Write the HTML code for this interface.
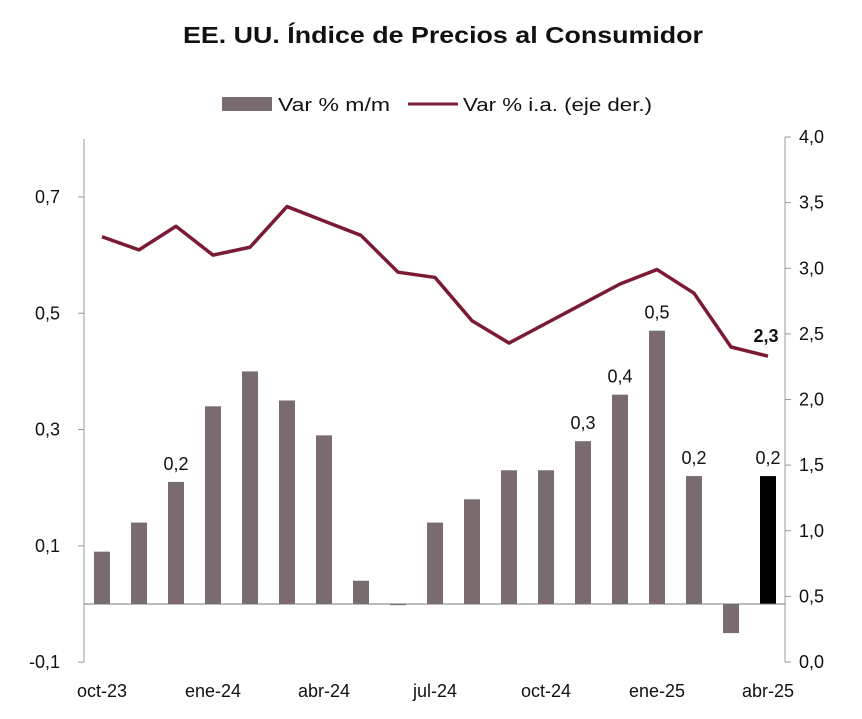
<!DOCTYPE html>
<html><head><meta charset="utf-8"><style>
body{margin:0;background:#fff;font-family:"Liberation Sans",sans-serif;}
svg text{font-family:"Liberation Sans",sans-serif;}
</style></head><body>
<svg id="chart" width="862" height="714">
<text x="183" y="43" textLength="520" lengthAdjust="spacingAndGlyphs" font-size="23" font-weight="bold" fill="#111">EE. UU. Índice de Precios al Consumidor</text>
<g>
<rect x="222" y="97" width="50" height="14" fill="#7a6b6e"/>
<text x="278" y="111" textLength="112" lengthAdjust="spacingAndGlyphs" font-size="18" fill="#111">Var % m/m</text>
<line x1="408" y1="104" x2="458" y2="104" stroke="#7b1a33" stroke-width="3"/>
<text x="463" y="111" textLength="189" lengthAdjust="spacingAndGlyphs" font-size="18" fill="#111">Var %  i.a. (eje der.)</text>
</g>
<g id="plot"></g>
</svg>
<script>
const categories=["oct-23","nov-23","dic-23","ene-24","feb-24","mar-24","abr-24","may-24","jun-24","jul-24","ago-24","sep-24","oct-24","nov-24","dic-24","ene-25","feb-25","mar-25","abr-25"];
const mmValues=[0.09,0.14,0.21,0.34,0.40,0.35,0.29,0.04,-0.002,0.14,0.18,0.23,0.23,0.28,0.36,0.47,0.22,-0.05,0.22];
const iaValues=[3.24,3.14,3.32,3.10,3.16,3.47,3.36,3.25,2.97,2.93,2.60,2.43,2.58,2.73,2.88,2.99,2.81,2.40,2.33];
const leftTicks=[-0.1,0.1,0.3,0.5,0.7];
const rightTicks=[0,0.5,1,1.5,2,2.5,3,3.5,4];
const xTickLabels=["oct-23","ene-24","abr-24","jul-24","oct-24","ene-25","abr-25"];
const barLabels={2:"0,2",13:"0,3",14:"0,4",15:"0,5",16:"0,2",18:"0,2"};
const NS="http://www.w3.org/2000/svg";
const g=document.getElementById("plot");
const yL=v=>604-v*581.5;
const yR=v=>662-v*131.25;
const xC=i=>102+i*37;
function mk(t,a,txt){const e=document.createElementNS(NS,t);for(const k in a)e.setAttribute(k,a[k]);if(txt!==undefined)e.textContent=txt;g.appendChild(e);return e;}
let e;
e=mk("line",{x1:84,y1:139,x2:84,y2:662,stroke:"#999"});


e=mk("line",{x1:785,y1:137,x2:785,y2:662,stroke:"#999"});


leftTicks.forEach(v=>{
 e=mk("line",{x1:78,y1:yL(v),x2:84,y2:yL(v),stroke:"#999"});
 
 
 e=mk("text",{x:60,y:yL(v)+6,"text-anchor":"end","font-size":"18",fill:"#111"},v.toFixed(1).replace(".",","));
 
 
});
rightTicks.forEach(v=>{
 e=mk("line",{x1:785,y1:yR(v),x2:791,y2:yR(v),stroke:"#999"});
 
 
 e=mk("text",{x:799,y:yR(v)+6,"font-size":"18",fill:"#111"},v.toFixed(1).replace(".",","));
 
 
});
mmValues.forEach((v,i)=>{
 const y0=yL(0),y1=yL(v);
 e=mk("rect",{x:xC(i)-8,y:Math.min(y0,y1),width:16,height:Math.max(1,Math.abs(y1-y0)),fill:i===18?"#000":"#7a6b6e"});
 
 
 if(barLabels[i]){
  e=mk("text",{x:xC(i),y:y1-12,"text-anchor":"middle","font-size":"18",fill:"#111"},barLabels[i]);
  
  
 }
});
e=mk("line",{x1:84,y1:yL(0),x2:785,y2:yL(0),stroke:"#777"});


xTickLabels.forEach((l,k)=>{
 const i=categories.indexOf(l);
 e=mk("text",{x:xC(i),y:697,"text-anchor":"middle","font-size":"18",fill:"#111"},l);
 
 
});
e=mk("polyline",{points:iaValues.map((v,i)=>xC(i)+","+yR(v)).join(" "),fill:"none",stroke:"#7b1a33","stroke-width":"3.5","stroke-linejoin":"round"});


const last=iaValues.length-1;
e=mk("text",{x:xC(last)-2,y:yR(iaValues[last])-14,"text-anchor":"middle","font-size":"18","font-weight":"bold",fill:"#111"},iaValues[last].toFixed(1).replace(".",","));


</script>
</body></html>
